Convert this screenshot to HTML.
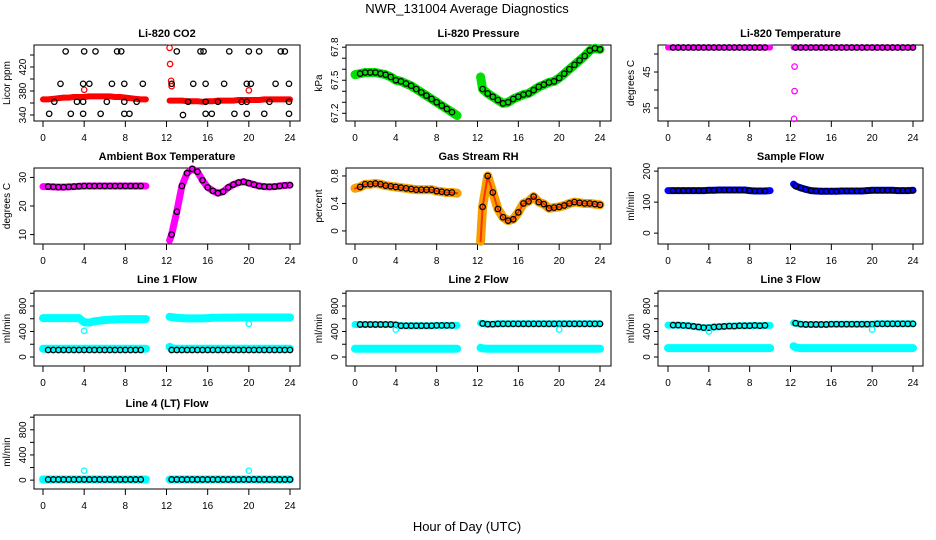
<!DOCTYPE html>
<html><head><meta charset="utf-8"><style>
html,body{margin:0;padding:0;background:#fff;}
svg{display:block;font-family:"Liberation Sans",Arial,sans-serif;}
</style></head><body>
<svg id="chart" width="936" height="540" viewBox="0 0 936 540" xmlns="http://www.w3.org/2000/svg">
<text x="467" y="13" font-size="13" text-anchor="middle">NWR_131004  Average Diagnostics</text>
<text x="467" y="531" font-size="13" text-anchor="middle">Hour of Day (UTC)</text>
</svg>
<script>
// ---- data ----
const hours1 = [0,0.5,1,1.5,2,2.5,3,3.5,4,4.5,5,5.5,6,6.5,7,7.5,8,8.5,9,9.5,10];
const hours2 = [12.3,12.5,13,13.5,14,14.5,15,15.5,16,16.5,17,17.5,18,18.5,19,19.5,20,20.5,21,21.5,22,22.5,23,23.5,24];
const xTicks = [0,4,8,12,16,20,24];

const co2Band1 = [366,366,367,368,369,369,370,370,370,371,371,371,371,371,370,370,369,368,367,366,366];
const co2Band2 = [364,364,364,364,363,363,363,362,363,363,364,364,364,364,365,365,365,365,365,366,366,366,366,366,366];
const co2BlackX = [0.6,1.1,1.7,2.2,2.7,3.3,3.9,3.9,3.9,4.0,4.5,5.1,5.6,6.2,6.7,7.2,7.6,7.9,7.9,7.9,8.4,9.1,9.7,12.5,13.0,13.6,14.1,14.6,15.3,15.6,15.8,15.8,15.8,16.4,17,17.6,18.1,18.6,19.3,19.8,19.8,19.8,20,20.2,21,21.5,22,22.6,23.1,23.5,23.9,23.9,23.9];
const co2BlackY = [342,362,392,446,342,362,342,362,392,446,392,446,342,362,392,446,446,342,362,392,342,362,392,392,446,340,362,392,446,446,342,362,392,342,362,392,446,342,362,342,362,392,446,392,446,342,362,392,446,446,342,362,392];
const co2OutX = [4,12.3,12.35,12.45,12.5,20];
const co2OutY = [382,452,425,397,388,381];

const presBand1 = [67.55,67.56,67.57,67.57,67.57,67.56,67.55,67.53,67.5,67.49,67.47,67.45,67.42,67.39,67.36,67.33,67.3,67.27,67.24,67.21,67.18];
const presBand2 = [67.53,67.42,67.38,67.35,67.32,67.29,67.3,67.33,67.35,67.37,67.38,67.41,67.44,67.46,67.48,67.49,67.52,67.56,67.6,67.64,67.68,67.72,67.77,67.79,67.78];

const ltBand1 = [51.8,51.8,51.8,51.8,51.8,51.8,51.8,51.8,51.8,51.8,51.8,51.8,51.8,51.8,51.8,51.8,51.8,51.8,51.8,51.8,51.8];
const ltBand2 = [51.8,51.8,51.8,51.8,51.8,51.8,51.8,51.8,51.8,51.8,51.8,51.8,51.8,51.8,51.8,51.8,51.8,51.8,51.8,51.8,51.8,51.8,51.8,51.8,51.8];
const ltOutX = [12.4,12.4,12.35];
const ltOutY = [46.5,39.7,32];

const ambBand1 = [26.8,26.8,26.7,26.6,26.6,26.7,26.8,26.9,27,27,27,27,27,27,27,27,27,27,27,27,27];
const ambBand2 = [8,10,18,27,31.5,33,32,29,26.5,25.3,24.5,25,26.5,27.5,28.2,28.5,28,27.5,27,26.8,26.7,26.8,27,27.2,27.3];

const rhBand1 = [0.62,0.64,0.68,0.68,0.69,0.68,0.66,0.65,0.64,0.63,0.62,0.61,0.6,0.6,0.6,0.6,0.58,0.57,0.56,0.56,0.55];
const rhBand2 = [-0.15,0.35,0.8,0.56,0.32,0.2,0.15,0.17,0.27,0.4,0.43,0.5,0.42,0.39,0.33,0.34,0.35,0.37,0.4,0.42,0.41,0.4,0.4,0.39,0.38];

const sfBand1 = [137,137,137,137,137,137,137,137,138,138,139,139,139,139,139,139,137,136,136,136,137];
const sfBand2 = [158,152,146,141,137,136,135,135,135,135,136,136,136,136,136,137,138,138,138,138,138,137,137,137,138];

const l1High1 = [610,610,610,610,610,610,610,610,545,540,560,570,580,585,590,592,595,595,595,595,595];
const l1High2 = [630,625,615,610,605,605,605,605,610,615,615,618,618,618,620,620,620,620,620,620,620,620,620,620,620];
const l1Low1 = [130,130,130,130,130,130,130,130,130,130,130,130,130,130,130,130,130,130,130,130,130];
const l1Low2 = [160,135,130,130,130,130,130,130,130,130,130,130,130,130,130,130,130,130,130,130,130,130,130,130,130];
const l1Black1 = [110,110,110,110,110,110,110,110,110,110,110,110,110,110,110,110,110,110,110,110,110];
const l1Black2 = [110,110,110,110,110,110,110,110,110,110,110,110,110,110,110,110,110,110,110,110,110,110,110,110,110];
const l1OutX = [4,20];
const l1OutY = [410,520];

const l2High1 = [510,510,510,510,510,510,510,510,505,490,490,490,490,490,490,490,495,495,495,495,495];
const l2High2 = [530,525,515,515,520,520,520,520,520,520,520,520,520,520,520,520,520,520,520,520,520,520,520,520,520];
const l2Low1 = [130,130,130,130,130,130,130,130,130,130,130,130,130,130,130,130,130,130,130,130,130];
const l2Low2 = [145,135,130,130,130,130,130,130,130,130,130,130,130,130,130,130,130,130,130,130,130,130,130,130,130];
const l2OutX = [4,20];
const l2OutY = [430,430];

const l3High1 = [500,500,500,495,490,480,470,460,460,470,475,480,485,485,490,490,490,495,490,495,495];
const l3High2 = [535,530,515,510,510,510,510,510,515,515,515,515,515,515,515,515,515,520,520,520,520,520,520,520,520];
const l3Low1 = [140,140,140,140,140,140,140,140,140,140,140,140,140,140,140,140,140,140,140,140,140];
const l3Low2 = [170,150,140,140,140,140,140,140,140,140,140,140,140,140,140,140,140,140,140,140,140,140,140,140,140];
const l3OutX = [4,20];
const l3OutY = [400,430];

const l4Band1 = [10,10,10,10,10,10,10,10,10,10,10,10,10,10,10,10,10,10,10,10,10];
const l4Band2 = [10,10,10,10,10,10,10,10,10,10,10,10,10,10,10,10,10,10,10,10,10,10,10,10,10];
const l4OutX = [4,20];
const l4OutY = [150,150];

// ---- layout ----
const NS = 'http://www.w3.org/2000/svg';
const svg = document.getElementById('chart');
const COLS = [{l:34,r:300,x0:43,x24:290},{l:346,r:611,x0:355,x24:600},{l:658,r:923,x0:668,x24:913}];
const ROWS = [{t:45,b:121},{t:168,b:244},{t:291,b:366},{t:415,b:489}];

function mk(tag, attrs, parent){
  const e = document.createElementNS(NS, tag);
  for (const k in attrs) e.setAttribute(k, attrs[k]);
  (parent||svg).appendChild(e);
  return e;
}

function panel(cfg){
  const c = COLS[cfg.col], r = ROWS[cfg.row];
  const g = mk('g', {});
  
  
  const sx = h => c.x0 + (c.x24 - c.x0) * h / 24;
  const sy = v => r.b - (v - cfg.ymin) / (cfg.ymax - cfg.ymin) * (r.b - r.t);
  const frame = mk('rect', {x:c.l, y:r.t, width:c.r - c.l, height:r.b - r.t, fill:'none', stroke:'#000', 'stroke-width':1}, g);
  
  
  const title = mk('text', {x:(c.l + c.r)/2, y:r.t - 8, 'font-size':11, 'font-weight':'bold', 'text-anchor':'middle'}, g);
  title.textContent = cfg.title;
  
  
  xTicks.forEach(t => {
    mk('line', {x1:sx(t), x2:sx(t), y1:r.b, y2:r.b + 6, stroke:'#000'}, g);
    const tl = mk('text', {x:sx(t), y:r.b + 20, 'font-size':10, 'text-anchor':'middle'}, g);
    tl.textContent = t;
    
    
  });
  cfg.ticks.forEach(t => {
    const y = sy(t);
    mk('line', {x1:c.l - 4, x2:c.l, y1:y, y2:y, stroke:'#000'}, g);
    if (cfg.labels.indexOf(t) >= 0) {
      const yl = mk('text', {x:0, y:0, 'font-size':10, 'text-anchor':'middle', transform:`translate(${c.l - 8},${y}) rotate(-90)`}, g);
      yl.textContent = t;
      
      
    }
  });
  const yt = mk('text', {x:0, y:0, 'font-size':10, 'text-anchor':'middle', transform:`translate(${c.l - 24},${(r.t + r.b)/2}) rotate(-90)`}, g);
  yt.textContent = cfg.ylab;
  
  
  (cfg.bands || []).forEach(b => {
    [[hours1, b.v1], [hours2, b.v2]].forEach(([hs, vs]) => {
      const pts = hs.map((h, i) => sx(h).toFixed(1) + ',' + sy(vs[i]).toFixed(1)).join(' ');
      const pl = mk('polyline', {points:pts, fill:'none', stroke:b.color, 'stroke-width':b.w || 7, 'stroke-linecap':'round', 'stroke-linejoin':'round'}, g);
      
      
    });
  });
  (cfg.black || []).forEach(b => {
    [[hours1, b.v1], [hours2, b.v2]].forEach(([hs, vs]) => {
      hs.forEach((h, i) => {
        if (h === 0 || h === 10 || h === 12.3) return;
        const ci = mk('circle', {cx:sx(h), cy:sy(vs[i]), r:2.7, fill:'none', stroke:'#000', 'stroke-width':1.3}, g);
        
        
      });
    });
  });
  (cfg.points || []).forEach(p => {
    p.x.forEach((h, i) => {
      const ci = mk('circle', {cx:sx(h), cy:sy(p.y[i]), r:2.7, fill:'none', stroke:p.color, 'stroke-width':1.3}, g);
      
      
    });
  });
}

panel({name:'panel-co2', col:0, row:0, title:'Li-820 CO2', ylab:'Licor ppm', ymin:330, ymax:456.7,
  ticks:[340,360,380,400,420,440], labels:[340,380,420],
  bands:[{v1:co2Band1, v2:co2Band2, color:'#ff0000', w:6}],
  points:[{x:co2OutX, y:co2OutY, color:'#ff0000', name:'outlier-point'},{x:co2BlackX, y:co2BlackY, color:'#000', name:'average-point'}]});

panel({name:'panel-pressure', col:1, row:0, title:'Li-820 Pressure', ylab:'kPa', ymin:67.13, ymax:67.82,
  ticks:[67.2,67.3,67.4,67.5,67.6,67.7,67.8], labels:[67.2,67.5,67.8],
  bands:[{v1:presBand1, v2:presBand2, color:'#00e000', w:9}],
  black:[{v1:presBand1, v2:presBand2}]});

panel({name:'panel-li820-temperature', col:2, row:0, title:'Li-820 Temperature', ylab:'degrees C', ymin:31.4, ymax:52.5,
  ticks:[35,40,45,50], labels:[35,45],
  bands:[{v1:ltBand1, v2:ltBand2, color:'#ff00ff', w:6}],
  black:[{v1:ltBand1, v2:ltBand2}],
  points:[{x:ltOutX, y:ltOutY, color:'#ff00ff', name:'outlier-point'}]});

panel({name:'panel-ambient-temperature', col:0, row:1, title:'Ambient Box Temperature', ylab:'degrees C', ymin:6.7, ymax:33.3,
  ticks:[10,20,30], labels:[10,20,30],
  bands:[{v1:ambBand1, v2:ambBand2, color:'#ff00ff', w:7}],
  black:[{v1:ambBand1, v2:ambBand2}]});

panel({name:'panel-gas-rh', col:1, row:1, title:'Gas Stream RH', ylab:'percent', ymin:-0.19, ymax:0.916,
  ticks:[0,0.4,0.8], labels:[0,0.4,0.8],
  bands:[{v1:rhBand1, v2:rhBand2, color:'#f5a000', w:9},{v1:rhBand1, v2:rhBand2, color:'#ff3000', w:2}],
  black:[{v1:rhBand1, v2:rhBand2}]});

panel({name:'panel-sample-flow', col:2, row:1, title:'Sample Flow', ylab:'ml/min', ymin:-35, ymax:210,
  ticks:[0,100,200], labels:[0,100,200],
  bands:[{v1:sfBand1, v2:sfBand2, color:'#0000ff', w:7}],
  black:[{v1:sfBand1, v2:sfBand2}]});

panel({name:'panel-line1-flow', col:0, row:2, title:'Line 1 Flow', ylab:'ml/min', ymin:-141, ymax:1035,
  ticks:[0,200,400,600,800,1000], labels:[0,400,800],
  bands:[{v1:l1High1, v2:l1High2, color:'#00ffff', w:8},{v1:l1Low1, v2:l1Low2, color:'#00ffff', w:8}],
  black:[{v1:l1Black1, v2:l1Black2}],
  points:[{x:l1OutX, y:l1OutY, color:'#00ffff', name:'outlier-point'}]});

panel({name:'panel-line2-flow', col:1, row:2, title:'Line 2 Flow', ylab:'ml/min', ymin:-141, ymax:1035,
  ticks:[0,200,400,600,800,1000], labels:[0,400,800],
  bands:[{v1:l2High1, v2:l2High2, color:'#00ffff', w:7},{v1:l2Low1, v2:l2Low2, color:'#00ffff', w:8}],
  black:[{v1:l2High1, v2:l2High2}],
  points:[{x:l2OutX, y:l2OutY, color:'#00ffff', name:'outlier-point'}]});

panel({name:'panel-line3-flow', col:2, row:2, title:'Line 3 Flow', ylab:'ml/min', ymin:-141, ymax:1035,
  ticks:[0,200,400,600,800,1000], labels:[0,400,800],
  bands:[{v1:l3High1, v2:l3High2, color:'#00ffff', w:7},{v1:l3Low1, v2:l3Low2, color:'#00ffff', w:8}],
  black:[{v1:l3High1, v2:l3High2}],
  points:[{x:l3OutX, y:l3OutY, color:'#00ffff', name:'outlier-point'}]});

panel({name:'panel-line4-flow', col:0, row:3, title:'Line 4 (LT) Flow', ylab:'ml/min', ymin:-141, ymax:1035,
  ticks:[0,200,400,600,800,1000], labels:[0,400,800],
  bands:[{v1:l4Band1, v2:l4Band2, color:'#00ffff', w:8}],
  black:[{v1:l4Band1, v2:l4Band2}],
  points:[{x:l4OutX, y:l4OutY, color:'#00ffff', name:'outlier-point'}]});
</script>
</body></html>
